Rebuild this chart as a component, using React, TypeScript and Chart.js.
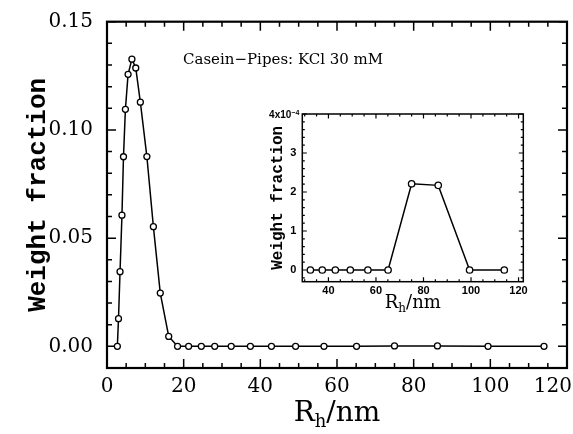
import React, { useEffect, useRef } from 'react';
import { Chart, registerables } from 'chart.js';

Chart.register(...registerables);

// ---- data ----
const rh = [2.7, 3.0, 3.4, 3.9, 4.3, 4.8, 5.5, 6.5, 7.5, 8.7, 10.4, 12.1, 13.9, 16.1, 18.4, 21.3, 24.6, 28.1, 32.4, 37.4, 42.9, 49.2, 56.6, 65.1, 75.0, 86.2, 99.4, 114.0];
const weight = [0, 0.0128, 0.0345, 0.0606, 0.0876, 0.1095, 0.1257, 0.1327, 0.1286, 0.1128, 0.0877, 0.0553, 0.0246, 0.0046, 0, 0, 0, 0, 0, 0, 0, 0, 0, 0, 2.21e-4, 2.17e-4, 0, 0];
const insetFrom = 30;

const mainXTicks = [0, 20, 40, 60, 80, 100, 120];
const mainYTicks = [0, 0.05, 0.1, 0.15];
const insetXTicks = [40, 60, 80, 100, 120];
const insetYTicks = [0, 1e-4, 2e-4, 3e-4, 4e-4];
const insetYLabels = ['0', '1', '2', '3', ''];

const annotation = 'Casein\u2212Pipes: KCl 30 mM';
const yTitle = 'Weight fraction';

const SERIF = '"DejaVu Serif", serif';
const MONO = '"Liberation Mono", monospace';

function drawRh(ctx: CanvasRenderingContext2D, cx: number, baseline: number, size: number) {
  const big = `${size}px ${SERIF}`;
  const small = `${Math.round(size * 0.66)}px ${SERIF}`;
  ctx.font = big;
  const wR = ctx.measureText('R').width;
  const wN = ctx.measureText('/nm').width;
  ctx.font = small;
  const wH = ctx.measureText('h').width;
  let x = cx - (wR + wH + wN) / 2;
  ctx.fillStyle = '#000';
  ctx.textAlign = 'left';
  ctx.textBaseline = 'alphabetic';
  ctx.font = big;
  ctx.fillText('R', x, baseline);
  x += wR;
  ctx.font = small;
  ctx.fillText('h', x, baseline + size * 0.22);
  x += wH;
  ctx.font = big;
  ctx.fillText('/nm', x, baseline);
}

function makeFrame(f: any) {
  return {
    id: 'frame',
    beforeDatasetsDraw(chart: any) {
      const { ctx, chartArea: a } = chart;
      const xs = chart.scales.x;
      const ys = chart.scales.y;
      ctx.save();
      ctx.strokeStyle = '#000';
      ctx.lineWidth = f.tick;
      ctx.beginPath();
      const xTick = (v: number, len: number) => {
        const p = xs.getPixelForValue(v);
        ctx.moveTo(p, a.bottom);
        ctx.lineTo(p, a.bottom - len);
        ctx.moveTo(p, a.top);
        ctx.lineTo(p, a.top + len);
      };
      const yTick = (v: number, len: number) => {
        const p = ys.getPixelForValue(v);
        ctx.moveTo(a.left, p);
        ctx.lineTo(a.left + len, p);
        ctx.moveTo(a.right, p);
        ctx.lineTo(a.right - len, p);
      };
      for (let i = Math.ceil(xs.min / f.xMinor - 1e-9); i * f.xMinor <= xs.max + 1e-9; i++) xTick(i * f.xMinor, f.minorLen);
      for (let i = Math.ceil(ys.min / f.yMinor - 1e-9); i * f.yMinor <= ys.max + 1e-12; i++) yTick(i * f.yMinor, f.minorLen);
      f.xMajor.forEach((v: number) => xTick(v, f.majorLen));
      f.yMajor.forEach((v: number) => yTick(v, f.majorLen));
      ctx.stroke();
      ctx.lineWidth = f.border;
      ctx.strokeRect(a.left, a.top, a.right - a.left, a.bottom - a.top);
      ctx.restore();
    },
    afterDraw(chart: any) {
      const ctx = chart.ctx;
      ctx.save();
      f.draw(ctx, chart.chartArea, chart);
      ctx.restore();
    },
  };
}

export default function App() {
  const mainRef = useRef<HTMLCanvasElement>(null);
  const insetRef = useRef<HTMLCanvasElement>(null);

  useEffect(() => {
    document.body.style.margin = '0';
    const points = rh.map((x, i) => ({ x, y: weight[i] }));
    const insetPoints = points.filter((p) => p.x >= insetFrom);

    const ds = (data: any[], r: number) => ({
      data,
      showLine: true,
      borderColor: '#000',
      borderWidth: 1.5,
      pointRadius: r,
      pointBorderWidth: 1.3,
      pointBackgroundColor: '#fff',
      pointBorderColor: '#000',
      tension: 0,
    });

    const noPad = (s: any) => { s.paddingLeft = 0; s.paddingRight = 0; s.paddingTop = 0; s.paddingBottom = 0; };

    const main = new Chart(mainRef.current!, {
      type: 'scatter',
      data: { datasets: [ds(points, 3)] },
      options: {
        animation: false,
        responsive: false,
        devicePixelRatio: 1,
        layout: { padding: { left: 0, top: 21.7, right: 6, bottom: 0 }, autoPadding: false },
        plugins: { legend: { display: false }, tooltip: { enabled: false } },
        scales: {
          x: {
            type: 'linear',
            min: 0,
            max: 120,
            afterBuildTicks: (s: any) => { s.ticks = mainXTicks.map((value) => ({ value })); },
            afterFit: (s: any) => { s.height = 66; noPad(s); },
            grid: { display: false, drawTicks: false },
            border: { display: false },
            ticks: { display: false },
          },
          y: {
            type: 'linear',
            min: -0.01,
            max: 0.15,
            afterBuildTicks: (s: any) => { s.ticks = mainYTicks.map((value) => ({ value })); },
            afterFit: (s: any) => { s.width = 107; noPad(s); },
            grid: { display: false, drawTicks: false },
            border: { display: false },
            ticks: { color: '#000', padding: 14, font: { family: SERIF, size: 20 }, callback: (v: any) => Number(v).toFixed(2) },
          },
        },
      },
      plugins: [
        makeFrame({
          border: 2.2, tick: 1.5, majorLen: 9, minorLen: 5, xMinor: 5, yMinor: 0.01,
          xMajor: mainXTicks, yMajor: mainYTicks,
          draw: (ctx: CanvasRenderingContext2D, a: any, chart: any) => {
            ctx.fillStyle = '#000';
            // x tick labels (kept inside the canvas at the right edge)
            const xs = chart.scales.x;
            ctx.font = `20px ${SERIF}`;
            ctx.textAlign = 'center';
            ctx.textBaseline = 'top';
            mainXTicks.forEach((v) => {
              const t = String(v);
              const w = ctx.measureText(t).width;
              const px = Math.min(xs.getPixelForValue(v), chart.width - w / 2 - 1);
              ctx.fillText(t, px, a.bottom + 9);
            });
            // y title
            ctx.save();
            ctx.translate(38, (a.top + a.bottom) / 2);
            ctx.rotate(-Math.PI / 2);
            ctx.font = `bold 26px ${MONO}`;
            ctx.textAlign = 'center';
            ctx.textBaseline = 'middle';
            ctx.fillText(yTitle, 0, 0);
            ctx.restore();
            // x title
            drawRh(ctx, (a.left + a.right) / 2, 421, 28);
            // annotation
            ctx.font = `15px ${SERIF}`;
            ctx.textAlign = 'left';
            ctx.textBaseline = 'middle';
            ctx.fillText(annotation, 183, 60);
          },
        }),
      ],
    } as any);

    const inset = new Chart(insetRef.current!, {
      type: 'scatter',
      data: { datasets: [ds(insetPoints, 3.2)] },
      options: {
        animation: false,
        responsive: false,
        devicePixelRatio: 1,
        layout: { padding: { left: 0, top: 14, right: 21.7, bottom: 0 }, autoPadding: false },
        plugins: { legend: { display: false }, tooltip: { enabled: false } },
        scales: {
          x: {
            type: 'linear',
            min: 29,
            max: 122,
            afterBuildTicks: (s: any) => { s.ticks = insetXTicks.map((value) => ({ value })); },
            afterFit: (s: any) => { s.height = 38.3; noPad(s); },
            grid: { display: false, drawTicks: false },
            border: { display: false },
            ticks: { color: '#000', padding: 3, maxRotation: 0, font: { family: '"Liberation Sans", sans-serif', size: 11, weight: 'bold' }, callback: (v: any) => String(v) },
          },
          y: {
            type: 'linear',
            min: -0.3e-4,
            max: 4e-4,
            afterBuildTicks: (s: any) => { s.ticks = insetYTicks.map((value) => ({ value })); },
            afterFit: (s: any) => { s.width = 47.3; noPad(s); },
            grid: { display: false, drawTicks: false },
            border: { display: false },
            ticks: {
              color: '#000', padding: 6, font: { family: '"Liberation Sans", sans-serif', size: 11, weight: 'bold' },
              callback: (v: any) => { const i = insetYTicks.findIndex((t) => Math.abs(t - v) < 1e-9); return i >= 0 ? insetYLabels[i] : ''; },
            },
          },
        },
      },
      plugins: [
        makeFrame({
          border: 1.5, tick: 1.2, majorLen: 4.5, minorLen: 2.5, xMinor: 5, yMinor: 0.2e-4,
          xMajor: insetXTicks, yMajor: insetYTicks,
          draw: (ctx: CanvasRenderingContext2D, a: any, chart: any) => {
            ctx.fillStyle = '#000';
            // y title
            ctx.save();
            ctx.translate(23, (a.top + a.bottom) / 2);
            ctx.rotate(-Math.PI / 2);
            ctx.font = `bold 16px ${MONO}`;
            ctx.textAlign = 'center';
            ctx.textBaseline = 'middle';
            ctx.fillText(yTitle, 0, 0);
            ctx.restore();
            // top label 4x10^-4
            const yTop = chart.scales.y.getPixelForValue(insetYTicks[insetYTicks.length - 1]);
            ctx.textBaseline = 'alphabetic';
            ctx.textAlign = 'right';
            ctx.font = `bold 7px "Liberation Sans", sans-serif`;
            const sup = '\u22124';
            const wSup = ctx.measureText(sup).width;
            ctx.fillText(sup, a.left - 3, yTop + 1);
            ctx.font = `bold 10px "Liberation Sans", sans-serif`;
            ctx.fillText('4x10', a.left - 3 - wSup, yTop + 4);
            // x title
            drawRh(ctx, (a.left + a.right) / 2, 208, 18);
          },
        }),
      ],
    } as any);

    return () => {
      main.destroy();
      inset.destroy();
    };
  }, []);

  return (
    <div style={{ position: 'fixed', left: 0, top: 0, width: 573, height: 434, background: '#fff' }}>
      <canvas ref={mainRef} width={573} height={434} style={{ position: 'absolute', left: 0, top: 0 }} />
      <canvas ref={insetRef} width={290} height={220} style={{ position: 'absolute', left: 255, top: 100 }} />
    </div>
  );
}
